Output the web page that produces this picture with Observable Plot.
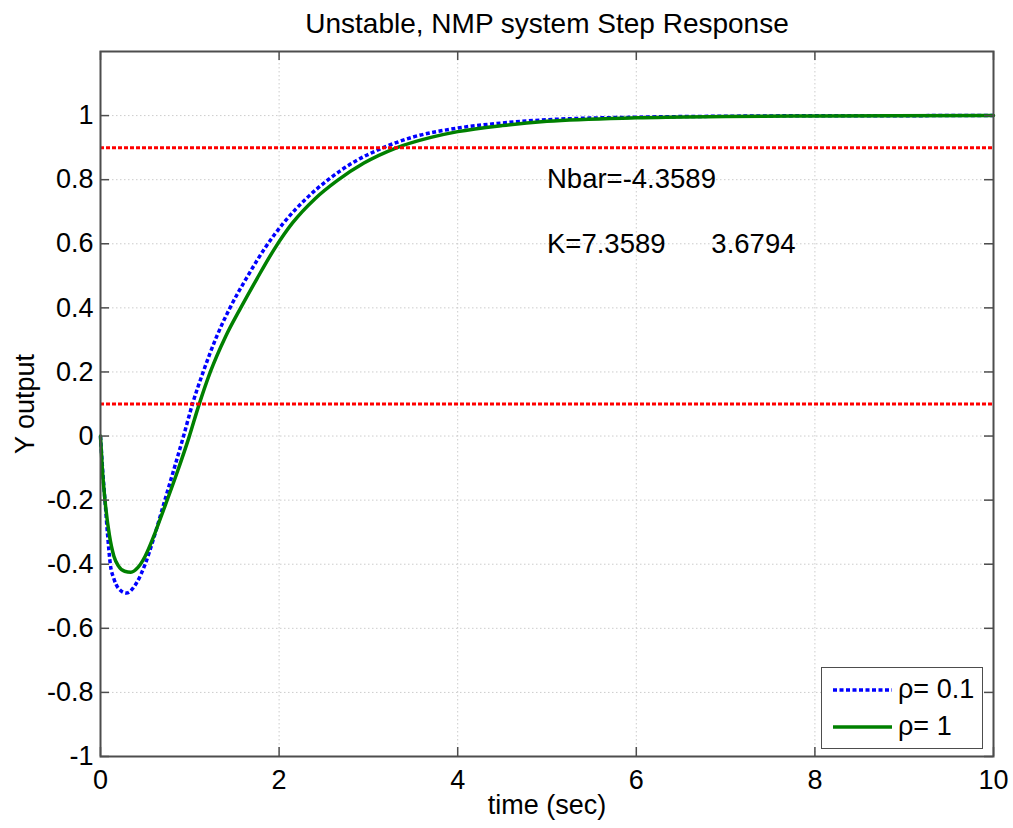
<!DOCTYPE html>
<html>
<head>
<meta charset="utf-8">
<script src="https://cdn.jsdelivr.net/npm/d3@7"></script>
<script src="https://cdn.jsdelivr.net/npm/@observablehq/plot@0.6"></script>
<style>
  body { margin: 0; background: #fff; font-family: "Liberation Sans", Arial, Helvetica, sans-serif; }
  #wrap { position: relative; width: 1013px; height: 828px; }
  #legend { position: absolute; left: 821px; top: 667px; width: 160px; height: 77px;
            border: 1.5px solid #4d4d4d; background: #fff; box-sizing: content-box; padding-top: 3px; }
  #legend .row { display: flex; align-items: center; height: 37px; font-size: 27px; color: #000; }
  #legend svg { margin-left: 11px; margin-right: 6px; }
</style>
</head>
<body>
<div id="wrap"></div>
<script>
// ---- data ----
const timeRho01 = [0, 0.025, 0.05, 0.08, 0.11, 0.15, 0.2, 0.29, 0.4, 0.5, 0.6, 0.7, 0.8, 0.93, 1.03, 1.15, 1.3, 1.45, 1.65, 1.85, 2.05, 2.3, 2.55, 2.85, 3.15, 3.5, 4.0, 4.5, 5, 6, 7, 8, 10];
const yRho01    = [0, -0.11, -0.2, -0.31, -0.4, -0.445, -0.475, -0.49, -0.46, -0.40, -0.315, -0.22, -0.125, 0, 0.1, 0.2, 0.31, 0.4, 0.5, 0.59, 0.665, 0.74, 0.8, 0.857, 0.898, 0.933, 0.961, 0.977, 0.987, 0.995, 0.998, 0.9995, 1];
const timeRho1  = [0, 0.02, 0.05, 0.1, 0.15, 0.2, 0.27, 0.34, 0.42, 0.5, 0.6, 0.7, 0.85, 0.99, 1.1, 1.23, 1.4, 1.57, 1.75, 1.95, 2.15, 2.4, 2.65, 2.95, 3.3, 3.7, 4.0, 4.5, 5, 6, 7, 8, 10];
const yRho1     = [0, -0.1, -0.2, -0.31, -0.375, -0.405, -0.422, -0.425, -0.41, -0.375, -0.31, -0.235, -0.12, -0.005, 0.095, 0.2, 0.31, 0.4, 0.49, 0.585, 0.665, 0.74, 0.797, 0.852, 0.898, 0.932, 0.95, 0.969, 0.982, 0.993, 0.997, 0.999, 1];
const seriesNames = ["ρ= 0.1", "ρ= 1"];
const refLevels = [0.1, 0.9];
const xTicks = [0, 2, 4, 6, 8, 10];
const yTicks = [-1, -0.8, -0.6, -0.4, -0.2, 0, 0.2, 0.4, 0.6, 0.8, 1];
const noteTimes = [5, 5];
const noteValues = [0.8, 0.6];
const noteLabels = ["Nbar=-4.3589", "K=7.3589\u00a0\u00a0\u00a0\u00a0\u00a0\u00a03.6794"];
const titleText = "Unstable, NMP system Step Response";
const xLabel = "time (sec)";
const yLabel = "Y output";

// ---- build tables ----
const blue = timeRho01.map((t, i) => ({t, y: yRho01[i], series: seriesNames[0]}));
const green = timeRho1.map((t, i) => ({t, y: yRho1[i], series: seriesNames[1]}));
const notes = noteLabels.map((label, i) => ({t: noteTimes[i], y: noteValues[i], label}));

const W = 1013, H = 828, mL = 100, mR = 20, mT = 51, mB = 72;
const innerW = W - mL - mR, innerH = H - mT - mB;
const tickLen = 9;
const font = "'Liberation Sans', Arial, Helvetica, sans-serif";
const fmt = d => String(d);
const gridStyle = {stroke: "#cccccc", strokeWidth: 1, strokeDasharray: "1.5,2.5"};
const tickStyle = {stroke: "#4d4d4d", strokeWidth: 1.5};

const chart = Plot.plot({
  width: W, height: H,
  marginLeft: mL, marginRight: mR, marginTop: mT, marginBottom: mB,
  style: {fontFamily: font, fontSize: "27px", color: "#000", background: "#fff", overflow: "visible"},
  x: {domain: [0, 10]},
  y: {domain: [-1, 1.2]},
  marks: [
    Plot.ruleX(xTicks, {x: d => d, ...gridStyle}),
    Plot.ruleY(yTicks, {y: d => d, ...gridStyle}),
    Plot.line(blue, {x: "t", y: "y", stroke: "#0000ff", strokeWidth: 3.5, strokeDasharray: "4,2.5", strokeLinecap: "butt", strokeLinejoin: "miter", curve: "monotone-x"}),
    Plot.line(green, {x: "t", y: "y", stroke: "#008000", strokeWidth: 3.5, curve: "monotone-x"}),
    Plot.ruleY(refLevels, {y: d => d, stroke: "#ff0000", strokeWidth: 3, strokeDasharray: "4,2", strokeLinecap: "butt"}),
    Plot.frame({stroke: "#4d4d4d", strokeWidth: 2}),
    Plot.ruleX(xTicks, {x: d => d, insetTop: innerH - tickLen, ...tickStyle}),
    Plot.ruleX(xTicks, {x: d => d, insetBottom: innerH - tickLen, ...tickStyle}),
    Plot.ruleY(yTicks, {y: d => d, insetRight: innerW - tickLen, ...tickStyle}),
    Plot.ruleY(yTicks, {y: d => d, insetLeft: innerW - tickLen, ...tickStyle}),
    Plot.axisX({ticks: xTicks, tickFormat: fmt, tickSize: 0, tickPadding: 13, label: null, fontSize: 27}),
    Plot.axisY({ticks: yTicks, tickFormat: fmt, tickSize: 0, tickPadding: 7, label: null, fontSize: 27}),
    Plot.text(notes, {x: "t", y: "y", text: "label", textAnchor: "start", lineAnchor: "middle", fontSize: 27.5, fill: "#000"}),
    Plot.text([titleText], {text: d => d, frameAnchor: "top", textAnchor: "middle", lineAnchor: "bottom", dy: -19, fontSize: 28, fill: "#000"}),
    Plot.text([xLabel], {text: d => d, frameAnchor: "bottom", textAnchor: "middle", lineAnchor: "bottom", dy: 57, fontSize: 27, fill: "#000"}),
    Plot.text([yLabel], {text: d => d, frameAnchor: "left", textAnchor: "middle", rotate: -90, lineAnchor: "bottom", dx: -67, fontSize: 27, fill: "#000"})
  ]
});
const wrap = document.getElementById("wrap");
wrap.appendChild(chart);

// ---- legend ----
const legendItems = [
  {name: seriesNames[0], color: "#0000ff", width: 3.5, dash: "4,2.5"},
  {name: seriesNames[1], color: "#008000", width: 3.5, dash: null}
];
const leg = d3.select(wrap).append("div").attr("id", "legend");
const rows = leg.selectAll("div.row").data(legendItems).join("div").attr("class", "row");
rows.append("svg").attr("width", 59).attr("height", 10)
  .append("line").attr("x1", 0).attr("x2", 59).attr("y1", 5).attr("y2", 5)
  .attr("stroke", d => d.color).attr("stroke-width", d => d.width)
  .attr("stroke-dasharray", d => d.dash);
rows.append("span").text(d => d.name);
</script>
</body>
</html>
